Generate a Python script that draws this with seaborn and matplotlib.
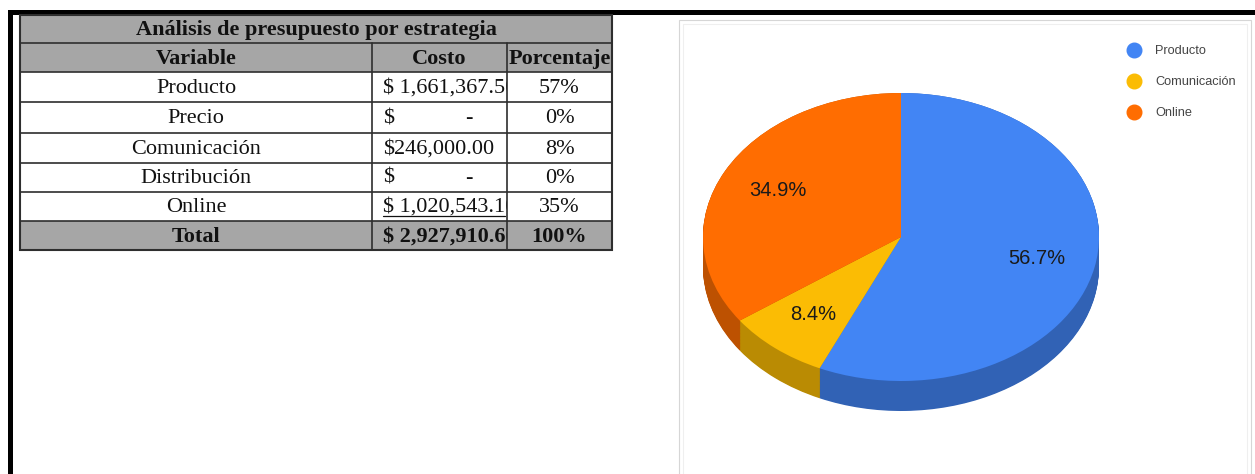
import numpy as np
import matplotlib
matplotlib.use("Agg")
import matplotlib.pyplot as plt
from matplotlib.patches import Rectangle
from matplotlib.lines import Line2D
from matplotlib import colors as mcolors
import seaborn as sns

# ---- data -------------------------------------------------------------
table_title = "Análisis de presupuesto por estrategia"
header = ["Variable", "Costo", "Porcentaje"]
variables = ["Producto", "Precio", "Comunicación", "Distribución", "Online"]
costs = [1661367.50, 0.0, 246000.00, 0.0, 1020543.10]
cost_style = ["accounting", "accounting", "currency", "accounting", "accounting"]
total_label = "Total"
series_colors = {
    "Producto": "#4285f4",
    "Precio": "#ea4335",
    "Comunicación": "#fbbc04",
    "Distribución": "#34a853",
    "Online": "#ff6d01",
}

total = sum(costs)

sns.set_theme(style="white")
plt.rcParams["font.family"] = ["Liberation Serif", "DejaVu Serif"]

W, H = 1255, 474
fig = plt.figure(figsize=(W / 100, H / 100), dpi=100)
fig.patch.set_facecolor("white")

# background axes in pixel units (y grows downward)
bg = fig.add_axes([0, 0, 1, 1])
bg.set_xlim(0, W)
bg.set_ylim(H, 0)
bg.axis("off")

# page frame
bg.add_patch(Rectangle((8, 10), W - 8, 5, facecolor="black", edgecolor="none"))
bg.add_patch(Rectangle((8, 10), 5, H - 10, facecolor="black", edgecolor="none"))

# ---- table ------------------------------------------------------------
col_x = [20, 372, 507, 612]
row_y = [15, 43, 72, 102, 133, 163, 192, 221, 250]
gray = "#a6a6a6"
line_c = "#2e2e2e"
fs = 16

def cell_bg(r, x0, x1, color):
    bg.add_patch(Rectangle((x0, row_y[r]), x1 - x0, row_y[r + 1] - row_y[r],
                           facecolor=color, edgecolor="none", zorder=1))

cell_bg(0, col_x[0], col_x[-1], gray)
cell_bg(1, col_x[0], col_x[-1], gray)
for r in range(2, 7):
    cell_bg(r, col_x[0], col_x[-1], "white")
cell_bg(7, col_x[0], col_x[-1], gray)

# grid lines
for y in row_y[1:-1]:
    bg.plot([col_x[0], col_x[-1]], [y, y], color=line_c, lw=1.2, zorder=3)
for x in col_x[1:-1]:
    bg.plot([x, x], [row_y[1], row_y[-1]], color=line_c, lw=1.2, zorder=6)
bg.add_patch(Rectangle((col_x[0], row_y[0]), col_x[-1] - col_x[0], row_y[-1] - row_y[0],
                       facecolor="none", edgecolor=line_c, lw=1.5, zorder=6))

def row_mid(r):
    return (row_y[r] + row_y[r + 1]) / 2 + 1

def center_x(c):
    return (col_x[c] + col_x[c + 1]) / 2

def put(text, x, r, ha="center", bold=False, clip_col=None):
    t = bg.text(x, row_mid(r), text, ha=ha, va="center", fontsize=fs,
                fontweight="bold" if bold else "normal", color="#111111", zorder=5)
    if clip_col is not None:
        clip = Rectangle((col_x[clip_col], row_y[r]), col_x[clip_col + 1] - col_x[clip_col],
                         row_y[r + 1] - row_y[r], transform=bg.transData)
        t.set_clip_path(clip)
        t.set_clip_on(True)
    return t

put(table_title, (col_x[0] + col_x[-1]) / 2, 0, bold=True)
for c, h in enumerate(header):
    put(h, center_x(c), 1, bold=True, clip_col=c)

def put_cost(value, style, r, bold=False, underline=False):
    x_left = col_x[1] + 11
    if value == 0:
        put("$", x_left, r, ha="left", bold=bold, clip_col=1)
        put("-", col_x[2] - 38, r, ha="center", bold=bold, clip_col=1)
        return
    if style == "currency":
        txt = f"${value:,.2f}"
    else:
        txt = f"$ {value:,.2f}"
    put(txt, x_left, r, ha="left", bold=bold, clip_col=1)
    if underline:
        y = row_y[r + 1] - 5
        bg.plot([x_left, col_x[2] - 2], [y, y], color="#111111", lw=0.9, zorder=5)

for i, (name, cost, style) in enumerate(zip(variables, costs, cost_style)):
    r = i + 2
    put(name, center_x(0), r)
    put_cost(cost, style, r, underline=(i == len(variables) - 1))
    put(f"{round(cost / total * 100):.0f}%", center_x(2), r)

put(total_label, center_x(0), 7, bold=True)
put_cost(total, "accounting", 7, bold=True)
put(f"{round(total / total * 100):.0f}%", center_x(2), 7, bold=True)

# ---- chart card -------------------------------------------------------
bg.add_patch(Rectangle((679, 20), 1251 - 679, H, facecolor="white",
                       edgecolor="#d6d6d6", lw=0.8, zorder=1))
bg.add_patch(Rectangle((683, 24), 1247 - 683, H, facecolor="none",
                       edgecolor="#efefef", lw=0.8, zorder=1))

# ---- 3D-style pie -----------------------------------------------------
pie_names = [n for n, c in zip(variables, costs) if c > 0]
pie_vals = [c for c in costs if c > 0]
top_colors = [series_colors[n] for n in pie_names]

def darker(c, k=0.74):
    r, g, b = mcolors.to_rgb(c)
    return (r * k, g * k, b * k)

side_colors = [darker(c) for c in top_colors]

cx, cy, rx, ry = 901, 237, 198, 144   # centre and semi-axes of the top face (px)
depth = 30 / ry                        # extrusion depth in data units

pax = fig.add_axes([0, 0, 1, 1])
pax.patch.set_alpha(0)

for k, off in enumerate(np.linspace(depth, 0, 40)):
    pax.pie(pie_vals, colors=side_colors, startangle=90, counterclock=False,
            center=(0, -off), wedgeprops=dict(linewidth=0, antialiased=True))

wedges, _, autotexts = pax.pie(
    pie_vals, colors=top_colors, startangle=90, counterclock=False,
    autopct="%1.1f%%", pctdistance=0.7,
    wedgeprops=dict(linewidth=0, antialiased=True),
    textprops=dict(fontsize=14.5, color="#1a1a1a", family=["Liberation Sans", "DejaVu Sans"]),
)

pax.set_aspect("auto")
pax.set_xlim((0 - cx) / rx, (W - cx) / rx)
pax.set_ylim((cy - H) / ry, cy / ry)
pax.axis("off")

handles = [Line2D([], [], marker="o", linestyle="", markersize=10.5,
                  markerfacecolor=c, markeredgecolor=c) for c in top_colors]
leg = pax.legend(handles, pie_names, loc="upper left",
                 bbox_to_anchor=(1126 / W, 1 - 45 / H), bbox_transform=fig.transFigure,
                 frameon=False, borderpad=0, borderaxespad=0,
                 handlelength=1.2, handletextpad=1.1, labelspacing=1.5,
                 prop=dict(family=["Liberation Sans", "DejaVu Sans"], size=9.2))
for t in leg.get_texts():
    t.set_color("#444444")

fig.savefig("out.png", dpi=100, facecolor="white")
